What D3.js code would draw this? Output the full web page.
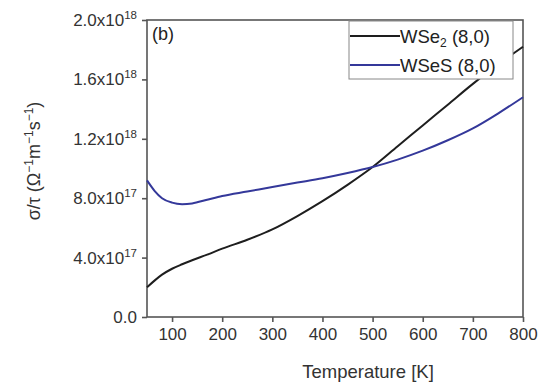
<!DOCTYPE html>
<html><head><meta charset="utf-8">
<script src="https://cdn.jsdelivr.net/npm/d3@7"></script>
<style>body{margin:0;background:#fff}svg{display:block}text{font-family:"Liberation Sans",Arial,sans-serif}</style>
</head><body><svg id="c" width="549" height="389"></svg>
<script>
const temps = [50, 65, 80, 100, 120, 140, 170, 200, 250, 300, 350, 400, 450, 500, 550, 600, 650, 700, 750, 800];
const wse2 = [2.0e17, 2.45e17, 2.85e17, 3.25e17, 3.55e17, 3.82e17, 4.2e17, 4.6e17, 5.2e17, 5.9e17, 6.8e17, 7.8e17, 8.9e17, 10.1e17, 11.5e17, 12.9e17, 14.3e17, 15.7e17, 17.0e17, 18.2e17];
const wses = [9.2e17, 8.5e17, 8.0e17, 7.7e17, 7.6e17, 7.65e17, 7.9e17, 8.15e17, 8.45e17, 8.75e17, 9.05e17, 9.35e17, 9.7e17, 10.1e17, 10.6e17, 11.2e17, 11.9e17, 12.7e17, 13.7e17, 14.8e17];
const seriesNames = ["WSe2 (8,0)", "WSeS (8,0)"];
const seriesColors = ["#1e1e1e", "#34389a"];
const xTicks = [100, 200, 300, 400, 500, 600, 700, 800];
const yTicks = [0, 4e17, 8e17, 1.2e18, 1.6e18, 2.0e18];
const yTickMant = ["0.0", "4.0x10", "8.0x10", "1.2x10", "1.6x10", "2.0x10"];
const yTickExp = ["", "17", "17", "18", "18", "18"];

const svg = d3.select("#c");
const L = 147, R = 523, T = 20, B = 317;
const x = d3.scaleLinear().domain([50, 800]).range([L, R]);
const y = d3.scaleLinear().domain([0, 2.0e18]).range([B, T]);
const axisColor = "#555";

svg.append("rect").attr("x", L).attr("y", T).attr("width", R - L).attr("height", B - T)
  .attr("fill", "none").attr("stroke", axisColor).attr("stroke-width", 1.6);

const xa = svg.append("g").attr("transform", `translate(0,${B})`)
  .call(d3.axisBottom(x).tickValues(xTicks).tickSize(5).tickPadding(6));
xa.select(".domain").remove();
xa.selectAll("line").attr("stroke", axisColor).attr("stroke-width", 1.6);
xa.selectAll("text").attr("font-size", 17).attr("fill", "#333");

const ya = svg.append("g").attr("transform", `translate(${L},0)`)
  .call(d3.axisLeft(y).tickValues(yTicks).tickSize(5).tickPadding(5).tickFormat(() => ""));
ya.select(".domain").remove();
ya.selectAll("line").attr("stroke", axisColor).attr("stroke-width", 1.6);
ya.selectAll(".tick text").each(function(d, i) {
  const t = d3.select(this).attr("font-size", 17).attr("fill", "#333");
  t.append("tspan").text(yTickMant[i]);
  if (yTickExp[i]) t.append("tspan").attr("dy", -7).attr("font-size", 11.5).text(yTickExp[i]);
});

const line = d3.line().curve(d3.curveMonotoneX);
const pts = [wse2, wses].map(s => temps.map((t, i) => [x(t), y(s[i])]));
pts.forEach((p, k) => svg.append("path").attr("d", line(p)).attr("fill", "none")
  .attr("stroke", seriesColors[k]).attr("stroke-width", 2));

svg.append("text").attr("x", 152).attr("y", 40).attr("font-size", 18).attr("fill", "#222").text("(b)");

const lg = svg.append("g");
lg.append("rect").attr("x", 349).attr("y", 21).attr("width", 164).attr("height", 58)
  .attr("fill", "#fff").attr("stroke", "#888").attr("stroke-width", 1);
seriesNames.forEach((n, k) => {
  const yy = 36 + k * 29;
  lg.append("line").attr("x1", 350).attr("x2", 400).attr("y1", yy).attr("y2", yy)
    .attr("stroke", seriesColors[k]).attr("stroke-width", 2);
  const t = lg.append("text").attr("x", 400).attr("y", yy + 6.5).attr("font-size", 18.5).attr("fill", "#222");
  if (k === 0) {
    t.append("tspan").text("WSe");
    t.append("tspan").attr("font-size", 12).attr("dy", 4).text("2");
    t.append("tspan").attr("dy", -4).text(" (8,0)");
  } else t.text(n);
});

svg.append("text").attr("x", 368).attr("y", 378).attr("text-anchor", "middle")
  .attr("font-size", 18.5).attr("fill", "#333").text("Temperature [K]");
const yt = svg.append("text").attr("transform", `translate(40,161) rotate(-90)`)
  .attr("text-anchor", "middle").attr("font-size", 18).attr("fill", "#333");
yt.append("tspan").text("σ/τ (Ω");
yt.append("tspan").attr("dy", -7).attr("font-size", 12).text("−1");
yt.append("tspan").attr("dy", 7).text("m");
yt.append("tspan").attr("dy", -7).attr("font-size", 12).text("−1");
yt.append("tspan").attr("dy", 7).text("s");
yt.append("tspan").attr("dy", -7).attr("font-size", 12).text("−1");
yt.append("tspan").attr("dy", 7).text(")");
</script></body></html>
